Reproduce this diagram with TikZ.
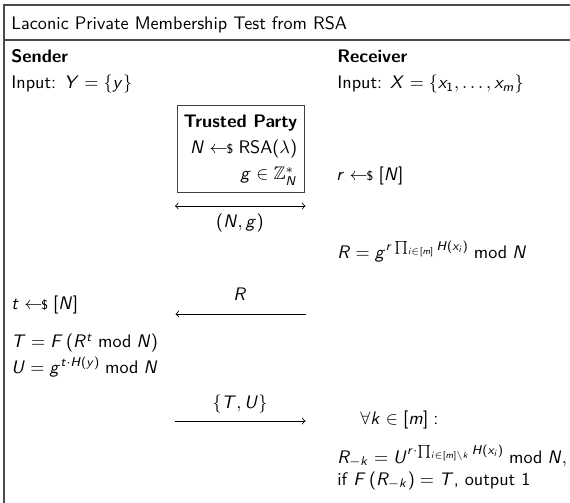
\documentclass[tikz,border=0pt]{standalone}
\usepackage{amsmath,amssymb}
\renewcommand{\familydefault}{\sfdefault}
\DeclareSymbolFont{sfletters}{OT1}{cmss}{m}{sl}
\SetSymbolFont{operators}{normal}{OT1}{cmss}{m}{n}
\newcommand{\sfl}[1]{\DeclareMathSymbol{#1}{\mathalpha}{sfletters}{`#1}}
\sfl A\sfl B\sfl C\sfl D\sfl E\sfl F\sfl G\sfl H\sfl I\sfl J\sfl K\sfl L\sfl M
\sfl N\sfl O\sfl P\sfl Q\sfl R\sfl S\sfl T\sfl U\sfl V\sfl W\sfl X\sfl Y\sfl Z
\sfl a\sfl b\sfl c\sfl d\sfl e\sfl f\sfl g\sfl h\sfl i\sfl j\sfl k\sfl l\sfl m
\sfl n\sfl o\sfl p\sfl q\sfl r\sfl s\sfl t\sfl u\sfl v\sfl w\sfl x\sfl y\sfl z
\newcommand{\smpl}{\mathrel{\gets\!\!\mbox{\scriptsize\$}}}
\begin{document}
\begin{tikzpicture}[x=0.551pt,y=-0.551pt,
  txt/.style={anchor=base west,inner sep=0pt},
  rtxt/.style={anchor=base east,inner sep=0pt},
  ctxt/.style={anchor=base,inner sep=0pt},
  msg/.style={line width=0.45pt},
  frm/.style={line width=0.75pt,draw=black!70}]
\useasboundingbox (0,0) rectangle (570,503);
% frame
\draw[frm] (4,5) rectangle (620,560);
\draw[frm] (4,40) -- (620,40);
\node[txt] (title) at (11,29.5) {Laconic Private Membership Test from RSA};
% sender
\node[txt] (snd) at (11,63) {\textbf{Sender}};
\node[txt] (sin) at (11,89) {Input: $Y=\{y\}$};
\node[txt] (st) at (11,310) {$t \smpl [N]$};
\node[txt] (sT) at (11,348) {$T = F\left(R^t \bmod N\right)$};
\node[txt] (sU) at (11,373) {$U = g^{t\cdot H(y)} \bmod N$};
% receiver
\node[txt] (rcv) at (337,63) {\textbf{Receiver}};
\node[txt] (rin) at (337,89) {Input: $X=\{x_1,\dots,x_m\}$};
\node[txt] (rr) at (336,181) {$r \smpl [N]$};
\node[txt] (rR) at (337,259) {$R = g^{r\prod_{i\in[m]} H(x_i)} \bmod N$};
\node[txt] (rall) at (360,424) {$\forall k\in[m]:$};
\node[txt] (rRk) at (337,463) {$R_{-k} = U^{r\cdot\prod_{i\in[m]\setminus k} H(x_i)} \bmod N,$};
\node[txt] (rif) at (337,485) {if $F\left(R_{-k}\right) = T$, output 1};
% trusted party
\node[draw=black!75,line width=0.5pt,anchor=north west,inner sep=0pt,
  minimum width=127*0.551pt,minimum height=87*0.551pt] (tp) at (176.5,105) {};
\node[rtxt] (tp1) at (297.5,127.5) {\textbf{Trusted Party}};
\node[rtxt] (tp2) at (297.5,153.5) {$N \smpl \mathsf{RSA}(\lambda)$};
\node[rtxt] (tp3) at (297.5,180) {$g \in \mathbb{Z}_N^*$};
% messages
\coordinate (a1l) at (175,206);
\coordinate (a1r) at (305.5,206);
\draw[msg,<->] (a1l) -- (a1r);
\node[ctxt] (l1) at (240,228) {$(N,g)$};
\coordinate (a2l) at (175.5,314);
\coordinate (a2r) at (305.5,314);
\draw[msg,->] (a2r) -- (a2l);
\node[ctxt] (l2) at (240,301) {$R$};
\coordinate (a3l) at (174.5,421);
\coordinate (a3r) at (305.5,421);
\draw[msg,->] (a3l) -- (a3r);
\node[ctxt] (l3) at (240,408) {$\{T,U\}$};
\end{tikzpicture}
\end{document}
